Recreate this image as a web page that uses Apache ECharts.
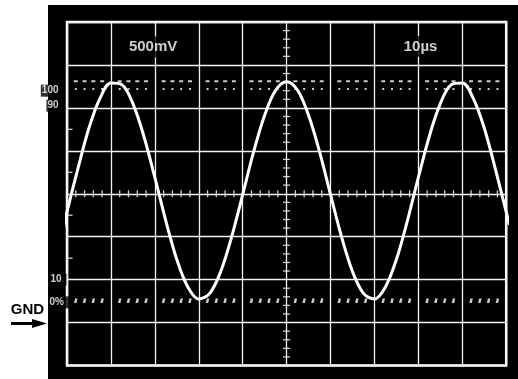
<!DOCTYPE html>
<html>
<head>
<meta charset="utf-8">
<script src="https://cdn.jsdelivr.net/npm/echarts@6/dist/echarts.min.js"></script>
<style>
html,body{margin:0;padding:0;background:#fff;}
#c{width:518px;height:379px;}
</style>
</head>
<body>
<div id="c"></div>
<script>
// Waveform samples (x in divisions, y in divisions)
const waveX = [-0.08, 0, 0.25, 0.5, 0.75, 1, 1.25, 1.5, 1.75, 2, 2.25, 2.5, 2.75, 3, 3.25, 3.5, 3.75, 4, 4.25, 4.5, 4.75, 5, 5.25, 5.5, 5.75, 6, 6.25, 6.5, 6.75, 7, 7.25, 7.5, 7.75, 8, 8.25, 8.5, 8.75, 9, 9.25, 9.5, 9.75, 10, 10.07];
const waveY = [3.20, 3.58, 4.59, 5.53, 6.22, 6.58, 6.54, 6.10, 5.34, 4.38, 3.37, 2.47, 1.83, 1.55, 1.68, 2.19, 3.00, 3.98, 4.98, 5.83, 6.41, 6.61, 6.41, 5.83, 4.98, 3.98, 3.00, 2.19, 1.68, 1.55, 1.83, 2.47, 3.37, 4.38, 5.34, 6.10, 6.54, 6.58, 6.22, 5.53, 4.59, 3.58, 3.30];

// Reference levels (divisions)
const hundredRows = [6.62, 6.44];
const zeroRow = [1.51];
const levelLabels = ['100', '90', '10', '0%'];
const levelValues = [6.40, 6.05, 2.0, 1.47];

// Scale annotations
const scaleLabels = ['500mV', '10µs'];
const scalePos = [[1.96, 7.42], [8.05, 7.43]];

// Graticule
const xDivs = 10, yDivs = 8, subStep = 0.2;
const leftFrameTicks = [2.5, 3.5, 4.5, 5.5];

function subPositions(n) {
  const out = [];
  const m = Math.round(n / subStep);
  for (let k = 1; k < m; k++) { if (k % 5 !== 0) out.push(+(k * subStep).toFixed(2)); }
  return out;
}
const xs = subPositions(xDivs);
const ys = subPositions(yDivs);

const FONT = '"Liberation Sans", Arial, sans-serif';
const chart = echarts.init(document.getElementById('c'), null, {renderer: 'canvas'});

const labelOffsets = [[-3.5, 0], [-3.5, 0], [-0.5, 0], [2, 0]];

const option = {
  animation: false,
  backgroundColor: '#fff',
  grid: {left: 67, top: 22, right: 11.8, bottom: 13.5, show: true, borderColor: '#fff', borderWidth: 2.5, backgroundColor: 'transparent'},
  xAxis: {type: 'value', min: 0, max: xDivs, interval: 1, axisLine: {show: false}, axisTick: {show: false}, axisLabel: {show: false},
    splitLine: {show: true, lineStyle: {color: '#f2f2f2', width: 1.3}}},
  yAxis: {type: 'value', min: 0, max: yDivs, interval: 1, axisLine: {show: false}, axisTick: {show: false}, axisLabel: {show: false},
    splitLine: {show: true, lineStyle: {color: '#f2f2f2', width: 1.3}}},
  graphic: [
    {type: 'rect', z: -1, shape: {x: 48, y: 5, width: 470, height: 374}, style: {fill: '#000'}},
    {type: 'text', style: {text: 'GND', x: 27.5, y: 310, align: 'center', verticalAlign: 'middle', font: 'bold 15px ' + FONT, fill: '#000'}},
    {type: 'line', shape: {x1: 11, y1: 323.5, x2: 35, y2: 323.5}, style: {stroke: '#000', lineWidth: 3}},
    {type: 'polygon', shape: {points: [[32, 319], [47, 323.5], [32, 328]]}, style: {fill: '#000'}}
  ],
  series: [
    {type: 'scatter', z: 3, silent: true, symbol: 'rect', symbolSize: [7, 1.3], itemStyle: {color: '#fff'},
      data: ys.map(y => [xDivs / 2, y])},
    {type: 'scatter', z: 3, silent: true, symbol: 'rect', symbolSize: [1.3, 7], itemStyle: {color: '#fff'},
      data: xs.map(x => [x, yDivs / 2])},
    {type: 'scatter', z: 3, silent: true, symbol: 'rect', symbolSize: [5, 1.3], symbolOffset: [3, 0], itemStyle: {color: '#fff'},
      data: leftFrameTicks.map(y => [0, y])},
    {type: 'scatter', z: 3, silent: true, symbol: 'rect', symbolSize: [4, 2], itemStyle: {color: '#fff'},
      data: xs.map(x => [x, hundredRows[0]])},
    {type: 'scatter', z: 3, silent: true, symbol: 'rect', symbolSize: [2, 2], itemStyle: {color: '#fff'},
      data: xs.map(x => [x, hundredRows[1]])},
    {type: 'scatter', z: 3, silent: true, symbol: 'path://M1.2,0 L4,0 L2.8,5 L0,5 Z', symbolSize: [3.5, 4.5], itemStyle: {color: '#fff'},
      data: xs.map(x => [x, zeroRow[0]])},
    {type: 'line', z: 5, silent: true, clip: false, smooth: 0.35, showSymbol: false, symbol: 'none',
      lineStyle: {color: '#fff', width: 3, cap: 'round'},
      data: waveX.map((x, i) => [x, waveY[i]])},
    {type: 'scatter', z: 6, silent: true, symbolSize: 0,
      data: levelLabels.map((t, i) => ({name: t, value: [0, levelValues[i]], label: {offset: labelOffsets[i]}})),
      label: {show: true, position: [0, 0], align: 'right', verticalAlign: 'middle', formatter: '{b}', color: '#fff',
        fontWeight: 'bold', fontSize: 10, fontFamily: FONT, backgroundColor: '#000', padding: [1, 5, 1, 1]}},
    {type: 'scatter', z: 6, silent: true, symbolSize: 0,
      data: scaleLabels.map((t, i) => ({name: t, value: scalePos[i]})),
      label: {show: true, position: [0, 0], align: 'center', verticalAlign: 'middle', formatter: '{b}', color: '#fff',
        fontWeight: 'bold', fontSize: 15, fontFamily: FONT, backgroundColor: '#000', padding: [3, 2, 3, 2]}}
  ]
};
chart.setOption(option);
</script>
</body>
</html>
